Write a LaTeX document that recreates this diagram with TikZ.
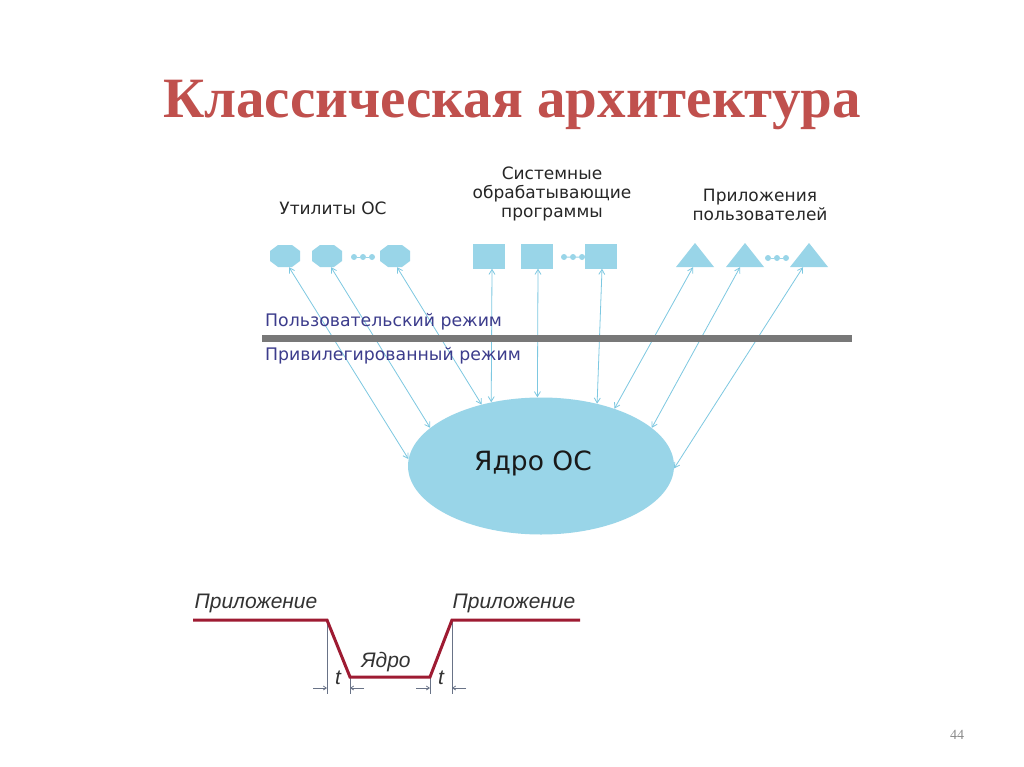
\documentclass[tikz,border=0pt]{standalone}
\usepackage{fontspec}
\setmainfont{Liberation Sans}
\newfontfamily\titlefont{Liberation Serif}
\newfontfamily\dejafont{DejaVu Sans}
\usetikzlibrary{shapes.geometric,arrows.meta}
\definecolor{shapeblue}{RGB}{153,213,232}
\definecolor{arrowblue}{RGB}{125,200,225}
\definecolor{titlered}{RGB}{192,80,77}
\definecolor{moderow}{RGB}{60,60,140}
\definecolor{bargray}{RGB}{120,120,120}
\definecolor{wavered}{RGB}{158,27,50}
\definecolor{dimgray}{RGB}{105,115,135}
\tikzset{
  oct/.style={rectangle, minimum width=30pt, minimum height=22pt, inner sep=0pt,
    path picture={\fill[shapeblue] ([xshift=8pt]path picture bounding box.south west) -- ([xshift=-8pt]path picture bounding box.south east) -- ([yshift=6pt]path picture bounding box.south east) -- ([yshift=-6pt]path picture bounding box.north east) -- ([xshift=-8pt]path picture bounding box.north east) -- ([xshift=8pt]path picture bounding box.north west) -- ([yshift=-6pt]path picture bounding box.north west) -- ([yshift=6pt]path picture bounding box.south west) -- cycle;}},
  sq/.style={rectangle, fill=shapeblue, minimum width=32pt, minimum height=25pt, inner sep=0pt},
  tri/.style={rectangle, minimum width=38pt, minimum height=24pt, inner sep=0pt,
    path picture={\fill[shapeblue] (path picture bounding box.south west) -- (path picture bounding box.south east) -- (path picture bounding box.north) -- cycle;}},
  dotn/.style={circle, fill=shapeblue, minimum size=6pt, inner sep=0pt},
  lbl/.style={font=\dejafont\fontsize{17}{19}\selectfont, text=black!85, align=center},
  mode/.style={font=\dejafont\fontsize{17.3}{19}\selectfont, text=moderow, anchor=base west, inner sep=0pt},
  arr/.style={draw=arrowblue, line width=0.8pt, {Straight Barb[length=5pt,width=6pt]}-{Straight Barb[length=5pt,width=6pt]}},
  wave/.style={draw=wavered, line width=3pt},
  dim/.style={draw=dimgray, line width=1pt},
  dimarr/.style={draw=dimgray, line width=0.8pt, -{Straight Barb[length=3pt,width=4pt]}},
  itl/.style={font=\fontsize{21}{24}\selectfont\itshape, text=black!80, inner sep=0pt, anchor=base},
}
\begin{document}
\begin{tikzpicture}[x=1pt,y=-1pt]
\useasboundingbox[fill=white] (0,0) rectangle (1024,767);
% title
\node[font=\titlefont\fontsize{57}{60}\selectfont\bfseries, text=titlered, anchor=base, inner sep=0pt] (title) at (512,118) {Классическая архитектура};
% group labels
\node[lbl] (lutil) at (333,208) {Утилиты ОС};
\node[lbl] (lsys) at (552,194) {Системные\\обрабатывающие\\программы};
\node[lbl] (lapp) at (760,205) {Приложения\\пользователей};
% shapes
\node[oct] (c1) at (285,256) {};
\node[oct] (c2) at (327,256) {};
\node[oct] (c3) at (395,256) {};
\node[dotn] (cd1) at (354,257) {};
\node[dotn] (cd2) at (363,257) {};
\node[dotn] (cd3) at (372,257) {};
\draw[shapeblue, line width=1pt] (cd1) -- (cd2) -- (cd3);
\node[sq] (s1) at (489,256) {};
\node[sq] (s2) at (537,256) {};
\node[sq] (s3) at (601,256) {};
\node[dotn] (sd1) at (564,257) {};
\node[dotn] (sd2) at (573,257) {};
\node[dotn] (sd3) at (582,257) {};
\draw[shapeblue, line width=1pt] (sd1) -- (sd2) -- (sd3) -- (s3.west);
\node[tri] (t1) at (695,255) {};
\node[tri] (t2) at (745,255) {};
\node[tri] (t3) at (809,255) {};
\node[dotn] (td1) at (768,258) {};
\node[dotn] (td2) at (777,258) {};
\node[dotn] (td3) at (786,258) {};
\draw[shapeblue, line width=1pt] (td1) -- (td2) -- (td3);
% kernel
\node[ellipse, fill=shapeblue, minimum width=266pt, minimum height=137pt, inner sep=0pt] (core) at (541,466) {};
\node[font=\dejafont\fontsize{26.5}{28}\selectfont, text=black!90] (coretext) at (533,463) {Ядро ОС};
% arrows
\draw[arr] ([xshift=4pt]c1.south) -- (core.177);
\draw[arr] ([xshift=4pt]c2.south) -- (core.161);
\draw[arr] ([xshift=2pt]c3.south) -- (core.134);
\draw[arr] ([xshift=3pt]s1.south) -- (core.128);
\draw[arr] ([xshift=1pt]s2.south) -- (core.93);
\draw[arr] ([xshift=1pt]s3.south) -- (core.48);
\draw[arr] ([xshift=-2pt]t1.south) -- (core.38);
\draw[arr] ([xshift=-5pt]t2.south) -- (core.19);
\draw[arr] ([xshift=-6pt]t3.south) -- (core.-1);
% mode separator
\coordinate (barL) at (262,338);
\coordinate (barR) at (852,338);
\draw[bargray, line width=7pt] (barL) -- (barR);
\node[mode] (muser) at (265,326) {Пользовательский режим};
\node[mode] (mpriv) at (265,360) {Привилегированный режим};
% timing diagram
\coordinate (w0) at (193,620);
\coordinate (wa) at (327,620);
\coordinate (wb) at (350,677);
\coordinate (wc) at (430,677);
\coordinate (wd) at (452,620);
\coordinate (we) at (580,620);
\draw[dim] (wa) -- (327,694);
\draw[dim] (wb) -- (350,694);
\draw[dim] (wc) -- (430,694);
\draw[dim] (wd) -- (452,694);
\coordinate (ga) at (327,688);
\coordinate (gb) at (350,688);
\coordinate (gc) at (430,688);
\coordinate (gd) at (452,688);
\draw[dimarr] (313,688) -- (ga);
\draw[dimarr] (364,688) -- (gb);
\draw[dimarr] (416,688) -- (gc);
\draw[dimarr] (466,688) -- (gd);
\draw[wave, line join=miter] (w0) -- (wa) -- (wb) -- (wc) -- (wd) -- (we);
\node[itl] (app1) at (256,608) {Приложение};
\node[itl] (app2) at (514,608) {Приложение};
\node[itl] (kern) at (386,667) {Ядро};
\node[itl] (tt1) at (338,684) {t};
\node[itl] (tt2) at (441,684) {t};
% page number
\node[font=\titlefont\fontsize{14}{16}\selectfont, text=black!45] (pagenum) at (957,735) {44};
\end{tikzpicture}
\end{document}
